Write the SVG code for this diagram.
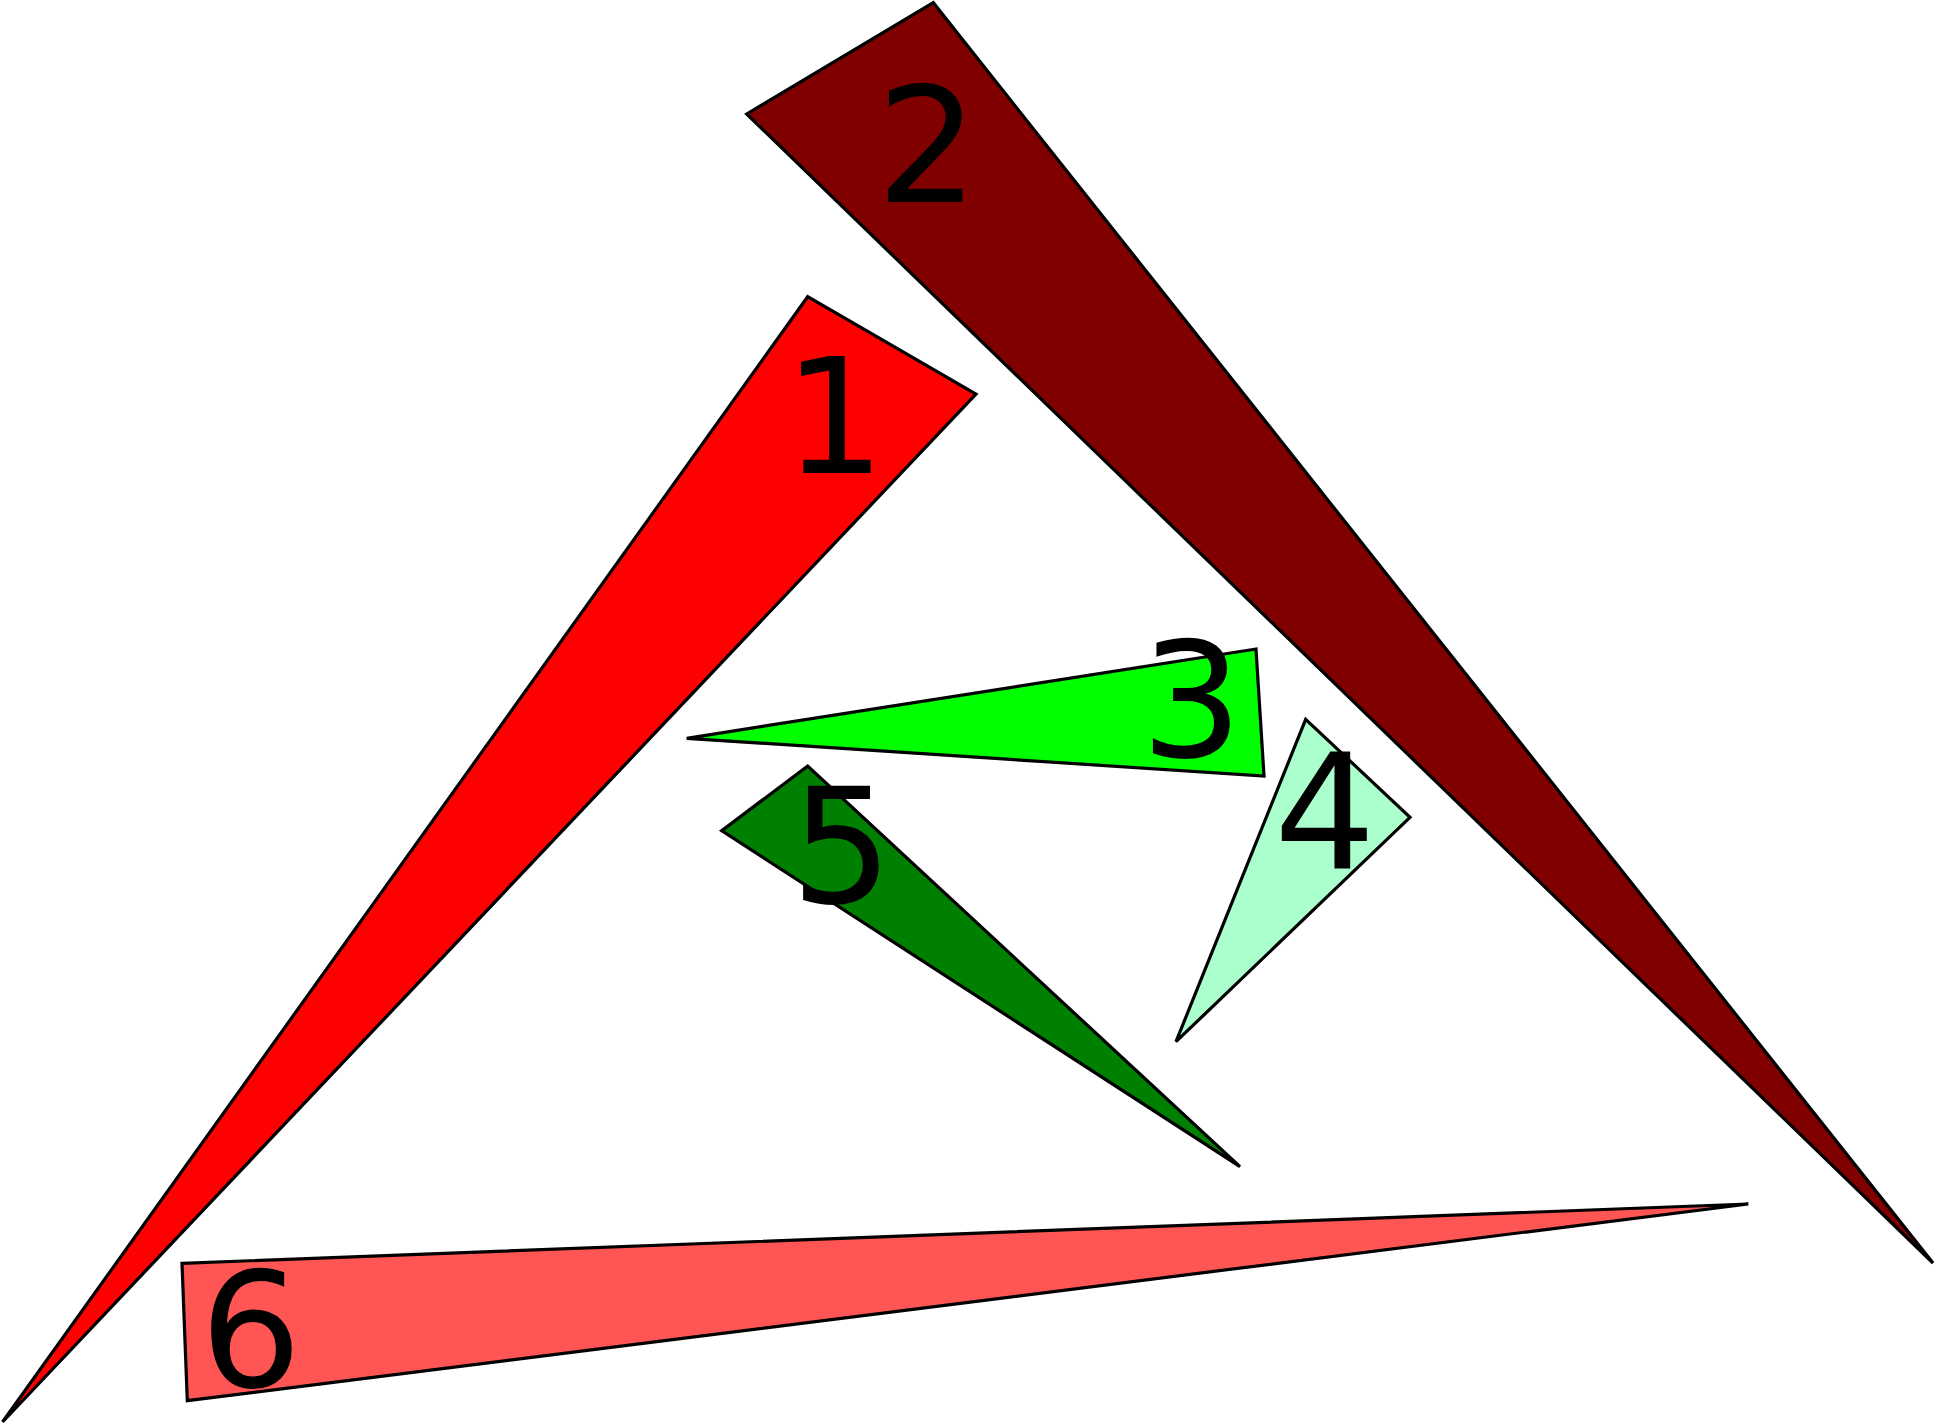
<svg xmlns="http://www.w3.org/2000/svg" width="1937" height="1425" viewBox="0 0 1937 1425">
<style>
.tri{stroke:#000;stroke-width:3.2;stroke-linejoin:miter;stroke-miterlimit:4}
.lbl{font-family:"DejaVu Sans",sans-serif;font-size:160px;fill:#000;text-anchor:middle}
</style>
<rect width="1937" height="1425" fill="#fff"/>
<g id="connectors"></g>
<g id="node2">
<polygon class="tri" fill="#800000" points="746.7,114 933.3,2.7 1933,1263"/>
<text class="lbl" x="927.5" y="202">2</text>
</g>
<g id="node1">
<polygon class="tri" fill="#ff0000" points="807.7,296.7 976,394 2.5,1422"/>
<text class="lbl" x="834.5" y="473">1</text>
</g>
<g id="node3">
<polygon class="tri" fill="#00ff00" points="686.7,738.3 1256,649 1264,776"/>
<text class="lbl" x="1191.7" y="757">3</text>
</g>
<g id="node4">
<polygon class="tri" fill="#aaffcc" points="1305.7,719.3 1410,817.3 1176,1041.7"/>
<text class="lbl" x="1325" y="869">4</text>
</g>
<g id="node5">
<polygon class="tri" fill="#008000" points="807.7,766 721.7,830.7 1240,1166.7"/>
<text class="lbl" x="841.7" y="903">5</text>
</g>
<g id="node6">
<polygon class="tri" fill="#ff5555" points="182,1263.3 1748.3,1204 187.3,1400.7"/>
<text class="lbl" x="251" y="1387">6</text>
</g>
</svg>
